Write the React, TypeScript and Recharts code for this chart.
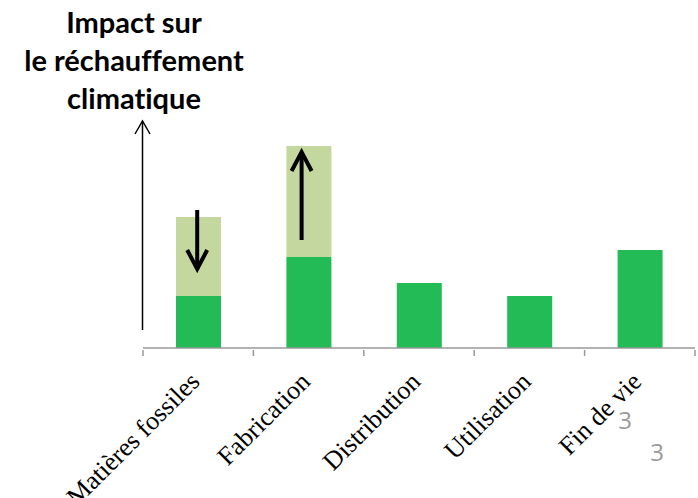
import React from 'react';
import { BarChart, Bar, XAxis, YAxis, ReferenceLine } from 'recharts';

// Life-cycle stages and their contribution to climate impact
const stages = ['Matières fossiles', 'Fabrication', 'Distribution', 'Utilisation', 'Fin de vie'];
const baseImpact = [52, 91, 65, 52, 98];
const shiftedImpact = [79, 111, 0, 0, 0];

// Arrows drawn inside the first two bars (from -> to)
const arrowStages = ['Matières fossiles', 'Fabrication'];
const arrowFrom = [138, 108];
const arrowTo = [79, 196];

const titleLines = ['Impact sur', 'le réchauffement', 'climatique'];

const data = stages.map((name, i) => ({
  name,
  base: baseImpact[i],
  shifted: shiftedImpact[i],
}));

const DARK = '#22BB55';
const LIGHT = '#C4D79F';

const Arrow = (props: any) => {
  const { x1, y1, x2, y2, dx = 0 } = props;
  const dir = y2 < y1 ? 1 : -1;
  const head = 19;
  const ax = x2 + dx;
  return (
    <g>
      <line x1={x1 + dx} y1={y1} x2={ax} y2={y2} stroke="#000" strokeWidth={4} />
      <polyline
        points={`${ax - 10},${y2 + dir * head} ${ax},${y2} ${ax + 10},${y2 + dir * head}`}
        fill="none"
        stroke="#000"
        strokeWidth={4}
      />
    </g>
  );
};

const StageTick = (props: any) => {
  const { x, y, payload, index } = props;
  const half = 110.4 / 2;
  const lx = x + 3;
  const ly = y + 27;
  return (
    <g>
      <line x1={x - half} y1={y - 6} x2={x - half} y2={y} stroke="#999" strokeWidth={1.5} />
      {index === stages.length - 1 && (
        <line x1={x + half} y1={y - 6} x2={x + half} y2={y} stroke="#999" strokeWidth={1.5} />
      )}
      <text
        x={lx}
        y={ly}
        textAnchor="end"
        transform={`rotate(-45, ${lx}, ${ly})`}
        fontFamily="'Liberation Serif', serif"
        fontSize={26}
        fill="#000"
      >
        {payload.value}
      </text>
    </g>
  );
};

export default function App() {
  return (
    <div style={{ position: 'absolute', left: 0, top: 0, width: 698, height: 498, background: '#fff', overflow: 'hidden' }}>
      <div style={{ position: 'absolute', left: 0, top: 3, width: 268, textAlign: 'center', fontFamily: 'Lato, sans-serif', fontWeight: 700, fontSize: 29, lineHeight: '38px', color: '#000', fontVariantLigatures: 'none' }}>
        {titleLines.map((t) => (
          <div key={t}>{t}</div>
        ))}
      </div>
      <BarChart
        width={698}
        height={498}
        data={data}
        margin={{ top: 128, right: 3, bottom: 0, left: 143 }}
        style={{ position: 'absolute', left: 0, top: 0 }}
      >
        <XAxis
          dataKey="name"
          axisLine={{ stroke: '#999', strokeWidth: 1.5 }}
          tickLine={false}
          tick={<StageTick />}
          interval={0}
          height={150}
        />
        <YAxis hide domain={[0, 220]} />
        <Bar dataKey="base" stackId="a" fill={DARK} barSize={45} isAnimationActive={false} />
        <Bar dataKey="shifted" stackId="a" fill={LIGHT} barSize={45} isAnimationActive={false} />
        {arrowStages.map((s, i) => (
          <ReferenceLine
            key={s}
            segment={[{ x: s, y: arrowFrom[i] }, { x: s, y: arrowTo[i] }]}
            shape={<Arrow dx={i === 0 ? -1 : -7} />}
          />
        ))}
      </BarChart>
      <svg width={698} height={498} style={{ position: 'absolute', left: 0, top: 0, pointerEvents: 'none' }}>
        <line x1={142.5} y1={330} x2={142.5} y2={121} stroke="#000" strokeWidth={1.5} />
        <polyline points="135,134 142.5,121 150,134" fill="none" stroke="#000" strokeWidth={1.5} />
        <text x={625} y={429} textAnchor="middle" fontFamily="'Open Sans', sans-serif" fontSize={24} fill="#999">3</text>
        <text x={657} y={461} textAnchor="middle" fontFamily="'Open Sans', sans-serif" fontSize={24} fill="#999">3</text>
      </svg>
    </div>
  );
}
